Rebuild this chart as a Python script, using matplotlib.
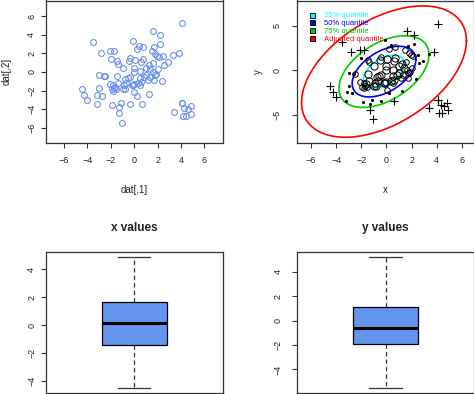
import numpy as np
import matplotlib
matplotlib.use("Agg")
import matplotlib.pyplot as plt
from matplotlib.lines import Line2D

plt.rcParams['font.family'] = ['Liberation Sans', 'DejaVu Sans']

# data (dat[,1], dat[,2])
dat_x = [4.07, 1.65, 2.22, -3.50, -0.14, 0.37, 0.71, 2.17, 1.70, 1.50,
         0.23, -2.80, -2.10, -1.77, -2.02, -1.50, -1.42, -1.00, -0.40, -0.48,
         0.03, 1.80, 1.92, 2.08, 2.50, 3.36, 3.79, 2.88, 2.56, 1.57,
         0.71, 0.57, 1.00, 1.23, 1.37, 1.60, 2.05, 1.88, 1.80, 0.00,
         -0.03, -0.40, -0.57, -0.77, -1.48, -2.48, -2.60, -3.02, 0.51, 0.80,
         1.00, 1.31, 1.68, 2.34, 1.17, 0.51, 0.57, 0.34, -0.05, -0.14,
         -0.23, -0.68, -0.88, -0.97, -0.80, -1.42, -1.62, -1.79, -1.91, -1.71,
         -1.82, -2.11, -1.54, -3.02, -4.47, -4.27, -4.02, -3.16, -2.74, -3.19,
         -1.88, -1.17, -1.28, -1.28, -1.05, -0.40, 0.63, 0.02, 0.23, 1.23,
         0.51, 3.39, 4.07, 4.10, 4.30, 4.39, 4.19, 4.59, 4.82, 4.87]
dat_y = [5.21, 4.39, 3.96, 3.18, 3.36, 2.79, 2.64, 2.96, 2.70, 2.30,
         2.43, 2.07, 2.25, 2.25, 1.39, 1.18, 0.89, 0.46, 1.54, 1.14,
         1.29, 1.96, 1.68, 1.60, 1.68, 1.86, 2.04, 1.04, 0.79, 0.93,
         1.43, 1.04, 0.46, 0.75, 0.29, 0.00, 0.29, -0.18, -0.32, 0.46,
         0.04, -0.54, -0.64, -0.71, -0.39, -0.43, -0.46, -0.36, 0.07, -0.50,
         -0.32, -0.54, -0.82, -0.96, -0.89, -0.61, -1.04, -1.21, -1.32, -1.43,
         -1.39, -1.21, -1.43, -1.79, -1.82, -1.18, -1.57, -1.46, -1.89, -1.75,
         -2.00, -1.32, -1.89, -1.75, -1.82, -2.43, -3.04, -2.50, -2.61, -3.43,
         -3.61, -3.29, -3.75, -4.43, -5.50, -3.43, -3.46, -2.21, -2.54, -2.36,
         -1.43, -4.29, -3.29, -3.39, -3.93, -4.75, -4.79, -4.04, -3.71, -4.50]

# tolerance ellipses
ell_center = [-0.2, -0.15]
ell_sd = [2.15, 2.42]
ell_rho = 0.47
quant_levels = [0.575, 1.386, 2.773, 9.3]
quant_labels = ['25% quantile', '50% quantile', '75% quantile', 'Adjusted quantile']
quant_colors = ['#00FFFF', '#0000FF', '#00CD00', '#FF0000']

dark = '#222222'
box_blue = '#6495ED'

x = np.array(dat_x)
y = np.array(dat_y)

fig = plt.figure(figsize=(4.74, 3.94), dpi=100)
W, H = 474.0, 394.0

def add_ax(l, t, r, b):
    return fig.add_axes([l / W, (H - b) / H, (r - l) / W, (b - t) / H])

ax1 = add_ax(45.7, 0.5, 222.7, 142.5)
ax2 = add_ax(296.6, 0.5, 474.5, 142.5)
ax3 = add_ax(45.7, 252.0, 222.7, 393.0)
ax4 = add_ax(296.6, 252.0, 474.5, 393.0)

def style(ax, ypad):
    for s in ax.spines.values():
        s.set_color('#333333')
        s.set_linewidth(0.9)
    ax.tick_params(direction='out', length=3.8, width=0.8, colors='#333333',
                   labelcolor=dark, labelsize=6.5)
    ax.tick_params(axis='x', pad=6)
    ax.tick_params(axis='y', pad=ypad, labelrotation=90)
    for lbl in ax.get_yticklabels():
        lbl.set_va('center')

# top left: raw scatter
ax1.plot(x, y, 'o', ls='none', mfc='none', mec='#6A8FE6', ms=4.2, mew=0.8)
ax1.set_xlim(-7.57, 7.57)
ax1.set_ylim(-7.59, 7.68)
ax1.set_xticks(np.arange(-6, 7, 2))
ax1.set_yticks(np.arange(-6, 7, 2))
ax1.set_xlabel('dat[,1]', fontsize=7, color=dark)
ax1.set_ylabel('dat[,2]', fontsize=7, color=dark)
ax1.xaxis.set_label_coords(0.5, -0.30)
ax1.yaxis.set_label_coords(-0.19, 0.5)
style(ax1, 3)

# top right: ellipses and symbols by distance
sx, sy = ell_sd
cov = np.array([[sx * sx, ell_rho * sx * sy], [ell_rho * sx * sy, sy * sy]])
L = np.linalg.cholesky(cov)
t = np.linspace(0, 2 * np.pi, 300)
circ = np.vstack([np.cos(t), np.sin(t)])
for q, c in zip(quant_levels, quant_colors):
    e = np.array(ell_center)[:, None] + np.sqrt(q) * (L @ circ)
    ax2.plot(e[0], e[1], color=c, lw=1.2)

d = np.vstack([x - ell_center[0], y - ell_center[1]])
d2 = np.sum(d * (np.linalg.inv(cov) @ d), axis=0)
m1 = d2 < quant_levels[0]
m2 = (d2 >= quant_levels[0]) & (d2 < quant_levels[1])
m3 = (d2 >= quant_levels[1]) & (d2 < quant_levels[2])
m4 = d2 >= quant_levels[2]
ax2.plot(x[m1], y[m1], 'o', ls='none', mfc='none', mec='black', ms=5.2, mew=0.7)
ax2.plot(x[m2], y[m2], 'o', ls='none', mfc='none', mec='black', ms=4.0, mew=0.7)
ax2.plot(x[m3], y[m3], '.', ls='none', color='black', ms=2.5)
ax2.plot(x[m4], y[m4], '+', ls='none', color='black', ms=6, mew=0.8)
ax2.set_xlim(-7.15, 7.0)
ax2.set_ylim(-8.12, 7.84)
ax2.set_xticks(np.arange(-6, 7, 2))
ax2.set_yticks([-5, 0, 5])
ax2.set_xlabel('x', fontsize=7, color=dark)
ax2.set_ylabel('y', fontsize=7, color=dark)
ax2.xaxis.set_label_coords(0.5, -0.30)
ax2.yaxis.set_label_coords(-0.19, 0.5)
style(ax2, 7)

handles = [Line2D([], [], marker='s', ls='none', mfc=c, mec='black', ms=3.6, mew=0.6)
           for c in quant_colors]
ax2.legend(handles, quant_labels, loc='upper left', bbox_to_anchor=(0.072, 0.92),
           frameon=False, fontsize=5.5, labelcolor=quant_colors, handlelength=0.7,
           handletextpad=1.2, labelspacing=0.07, borderpad=0, borderaxespad=0)

# bottom: boxplots
def box(ax, vals, title, ypad):
    ax.boxplot(vals, positions=[1], widths=0.367, patch_artist=True,
               showfliers=False,
               boxprops=dict(facecolor=box_blue, edgecolor='black', linewidth=0.9),
               medianprops=dict(color='black', linewidth=2.2),
               whiskerprops=dict(color='#333333', linewidth=0.9, linestyle=(0, (3.5, 2.5))),
               capprops=dict(color='#333333', linewidth=0.9))
    span = vals.max() - vals.min()
    ax.set_ylim(vals.min() - 0.04 * span, vals.max() + 0.04 * span)
    ax.set_xlim(0.5, 1.5)
    ax.set_xticks([])
    ax.set_yticks(np.arange(-4, 5, 2))
    ax.set_title(title, fontsize=8.5, fontweight='bold', color=dark, pad=15)
    style(ax, ypad)

box(ax3, x, 'x values', 3)
box(ax4, y, 'y values', 6)

fig.savefig('out.png', dpi=100)
